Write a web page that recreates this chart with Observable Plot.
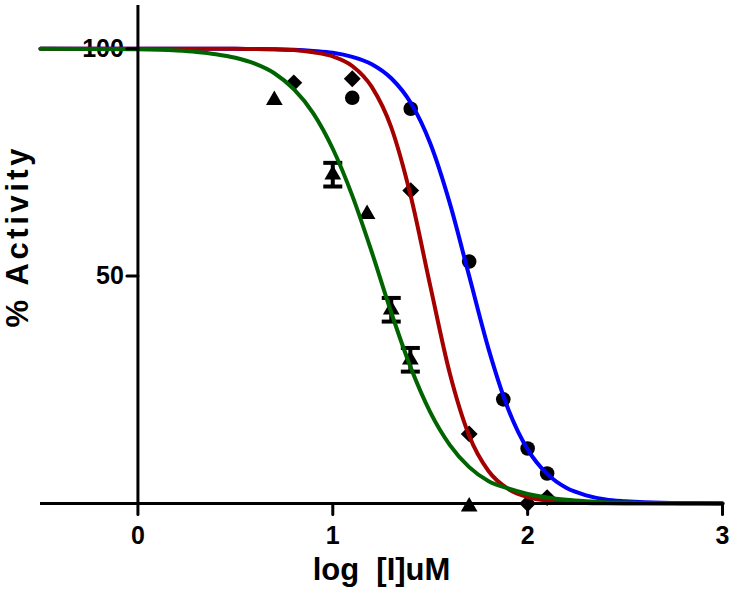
<!DOCTYPE html>
<html>
<head>
<meta charset="utf-8">
<script src="https://cdn.jsdelivr.net/npm/d3@7"></script>
<script src="https://cdn.jsdelivr.net/npm/@observablehq/plot@0.6"></script>
<style>
html, body { margin: 0; padding: 0; background: #fff; }
#chart svg text { white-space: pre; }
</style>
</head>
<body>
<div id="chart"></div>
<script>
// ---- axes / labels ----
const xTicks = [0, 1, 2, 3];
const yTicks = [50, 100];
const xDomain = [-0.5, 3];
const yDomain = [0, 109.5];
const xTitle = "log  [I]uM";
const yTitle = "% Activity";

// ---- fitted curves ----
const curveX     = [-0.5, 0, 0.2, 0.3, 0.4, 0.5, 0.6, 0.7, 0.8, 0.9, 1.0, 1.1, 1.2, 1.3, 1.4, 1.5, 1.6, 1.7, 1.8, 1.9, 2.0, 2.1, 2.2, 2.3, 2.4, 2.5, 2.6, 2.8, 3.0];
const curveBlue  = [100, 100, 100, 100, 99.98, 99.97, 99.95, 99.9, 99.76, 99.5, 99.1, 98.2, 96.6, 93.5, 88.1, 79.2, 66.1, 50.0, 33.9, 20.8, 11.9, 6.5, 3.4, 1.8, 0.9, 0.5, 0.25, 0.06, 0.02];
const curveRed   = [100, 100, 100, 100, 100, 99.98, 99.94, 99.86, 99.7, 99.2, 98.3, 96.2, 91.6, 82.7, 67.6, 47.9, 28.7, 14.9, 7.1, 3.2, 1.4, 0.6, 0.3, 0.12, 0.05, 0.02, 0.01, 0, 0];
const curveGreen = [99.99, 99.86, 99.6, 99.3, 98.8, 98.0, 96.7, 94.6, 91.1, 85.8, 78.0, 67.7, 55.3, 42.0, 29.9, 20.1, 12.9, 8.0, 4.9, 3.3, 2.1, 1.3, 0.8, 0.5, 0.3, 0.2, 0.12, 0.05, 0.02];

// ---- data points ----
const circleX = [1.1, 1.4, 1.7, 1.875, 2.0, 2.1];
const circleY = [89.2, 86.8, 53.2, 22.9, 12.1, 6.6];
const diamondX = [0.8, 1.1, 1.4, 1.7, 2.0, 2.1];
const diamondY = [92.5, 93.4, 68.8, 15.3, 0, 1.3];
const triangleX = [0.7, 1.0, 1.176, 1.3, 1.398, 1.7];
const triangleY = [88.7, 72.3, 63.6, 42.6, 31.6, -0.7];
const triangleErr = [0, 2.6, 0, 2.6, 2.6, 0];

const colors = {blue: "#0000ff", red: "#a50000", green: "#006400"};

// ---- tables built from the arrays ----
const blue = curveX.map((x, i) => ({x, y: curveBlue[i]}));
const red = curveX.map((x, i) => ({x, y: curveRed[i]}));
const green = curveX.map((x, i) => ({x, y: curveGreen[i]}));
const circles = circleX.map((x, i) => ({x, y: circleY[i]}));
const diamonds = diamondX.map((x, i) => ({x, y: diamondY[i]}));
const triangles = triangleX.map((x, i) => ({x, y: triangleY[i], e: triangleErr[i]}));
const errs = triangles.filter(d => d.e > 0);

const tickShape = {draw(context, l) { context.moveTo(0, 0); context.lineTo(0, -l); }};
const capSymbol = {draw(context, size) { const w = Math.sqrt(size / Math.PI); context.moveTo(-w, 0); context.lineTo(w, 0); }};

const font = {fontSize: 25, fontWeight: "bold"};

const chart = Plot.plot({
  width: 730,
  height: 597,
  marginLeft: 40,
  marginRight: 8,
  marginTop: 5,
  marginBottom: 94,
  x: {domain: xDomain, axis: null},
  y: {domain: yDomain, axis: null},
  style: {fontFamily: "'Liberation Sans', Arial, sans-serif", background: "white", color: "black", overflow: "visible"},
  marks: [
    // tick labels
    Plot.text(yTicks, {x: () => 0, y: d => d, text: d => String(d), textAnchor: "end", dx: -14, ...font}),
    Plot.text(xTicks, {x: d => d, frameAnchor: "bottom", lineAnchor: "top", dy: 23, text: d => String(d), ...font}),
    // axis titles
    Plot.text([xTitle], {frameAnchor: "bottom", dy: 76, fontSize: 31, fontWeight: "bold"}),
    Plot.text([yTitle], {frameAnchor: "left", rotate: -90, textAnchor: "start", dx: -22, dy: 73, fontSize: 31, fontWeight: "bold"}),
    // points
    Plot.dot(triangles, {x: "x", y: "y", symbol: "triangle", r: 6.2, fill: "black"}),
    Plot.dot(diamonds, {x: "x", y: "y", symbol: "diamond2", r: 7.6, fill: "black"}),
    Plot.dot(circles, {x: "x", y: "y", symbol: "circle", r: 7.3, fill: "black"}),
    // error bars
    Plot.ruleX(errs, {x: "x", y1: d => d.y - d.e, y2: d => d.y + d.e, stroke: "black", strokeWidth: 4}),
    Plot.dot(errs, {x: "x", y: d => d.y + d.e, symbol: capSymbol, r: 9.5, stroke: "black", strokeWidth: 4, fill: "none"}),
    Plot.dot(errs, {x: "x", y: d => d.y - d.e, symbol: capSymbol, r: 9.5, stroke: "black", strokeWidth: 4, fill: "none"}),
    // fitted curves
    Plot.line(blue, {x: "x", y: "y", stroke: colors.blue, strokeWidth: 4, curve: "monotone-x"}),
    Plot.line(red, {x: "x", y: "y", stroke: colors.red, strokeWidth: 4, curve: "monotone-x"}),
    Plot.line(green, {x: "x", y: "y", stroke: colors.green, strokeWidth: 4, curve: "monotone-x"}),
    // axis lines and ticks
    Plot.ruleY([0], {stroke: "black", strokeWidth: 3}),
    Plot.ruleX([0], {stroke: "black", strokeWidth: 3}),
    Plot.vector(xTicks, {x: d => d, y: () => 0, length: 11, rotate: 180, anchor: "start", shape: tickShape, stroke: "black", strokeWidth: 3}),
    Plot.vector(yTicks, {x: () => 0, y: d => d, length: 11, rotate: -90, anchor: "start", shape: tickShape, stroke: "black", strokeWidth: 3})
  ]
});

d3.select(chart).selectAll("text")
  .filter(function () { return this.textContent === yTitle; })
  .attr("textLength", 179)
  .attr("lengthAdjust", "spacing");

document.getElementById("chart").appendChild(chart);
</script>
</body>
</html>
